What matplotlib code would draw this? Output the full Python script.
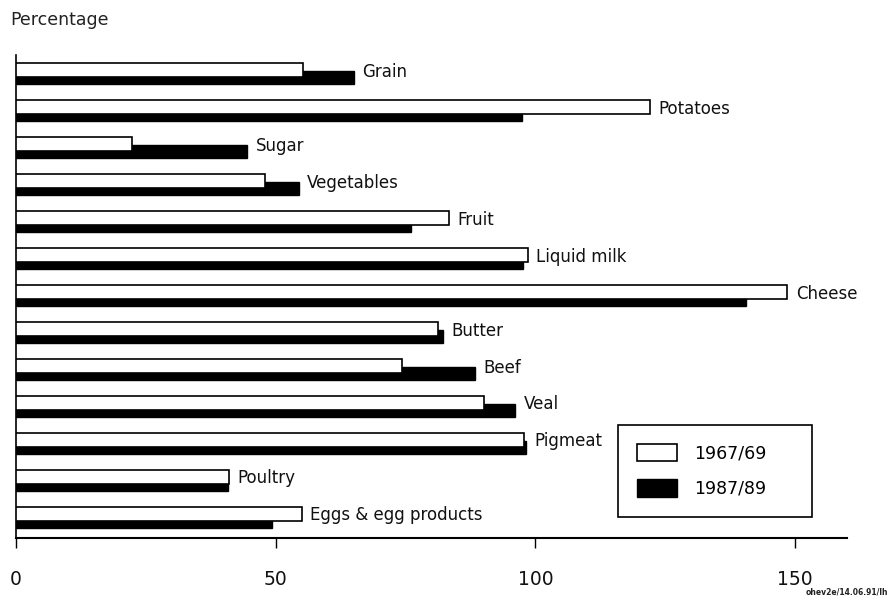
import matplotlib
matplotlib.use("Agg")
import matplotlib.pyplot as plt
from matplotlib.patches import Rectangle
import numpy as np

categories = ["Grain", "Potatoes", "Sugar", "Vegetables", "Fruit", "Liquid milk",
              "Cheese", "Butter", "Beef", "Veal", "Pigmeat", "Poultry",
              "Eggs & egg products"]
v_1967 = [55.2, 122, 22.3, 47.9, 83.3, 98.5, 148.5, 81.2, 74.4, 90.2, 97.9, 41.0, 55.0]
v_1987 = [65.0, 97.5, 44.4, 54.4, 76.0, 97.7, 140.6, 82.2, 88.3, 96.0, 98.1, 40.8, 49.2]
series_labels = ["1967/69", "1987/89"]
xticks = [0, 50, 100, 150]

plt.rcParams['font.family'] = ['DejaVu Sans']

fig = plt.figure(figsize=(8.9, 6.0), dpi=100)
ax = fig.add_axes([16/890, 1 - 538/600, (847-16)/890, (538-55)/600])

y = np.arange(len(categories))
hb = ax.barh(y + 0.12, v_1987, height=0.35, color="black", edgecolor="black",
             linewidth=1.0, zorder=2, label=series_labels[1])
hw = ax.barh(y - 0.08, v_1967, height=0.38, color="white", edgecolor="black",
             linewidth=1.2, zorder=3, label=series_labels[0])

for i, (c, a, b) in enumerate(zip(categories, v_1967, v_1987)):
    ax.text(max(a, b) + 1.7, i - 0.04, c, va="center", ha="left",
            fontsize=12, color="#111111")

ax.set_xlim(0, 160)
ax.set_ylim(len(categories) - 1 + 0.57, -0.49)
ax.set_xticks(xticks)
ax.set_xticklabels([str(t) for t in xticks], fontsize=13.5, color="#111111")
ax.set_yticks([])
ax.tick_params(axis="x", direction="out", length=7, width=1.0, pad=16)
for s in ["top", "right"]:
    ax.spines[s].set_visible(False)
ax.spines["left"].set_linewidth(1.2)
ax.spines["bottom"].set_linewidth(1.5)

leg = ax.legend(handles=[hw, hb], labels=series_labels, loc="upper left",
                bbox_to_anchor=(621/890, 1 - 428/600), bbox_transform=fig.transFigure,
                fontsize=12.5, frameon=False,
                handlelength=2.3, handleheight=1.15, handletextpad=1.0,
                labelspacing=1.0, borderpad=0.9, borderaxespad=0)
fig.add_artist(Rectangle((618/890, 1 - 517/600), (812-618)/890, (517-425)/600,
                         transform=fig.transFigure, fill=False, edgecolor="black",
                         linewidth=1.2))

fig.text(10/890, 1 - 20/600, "Percentage", fontsize=12.5, ha="left", va="center",
         color="#222222")
fig.text(888/890, 1 - 592/600, "ohev2e/14.06.91/lh", fontsize=5.5, ha="right",
         va="center", fontweight="bold", color="#222222")

fig.savefig("out.png", dpi=100)
